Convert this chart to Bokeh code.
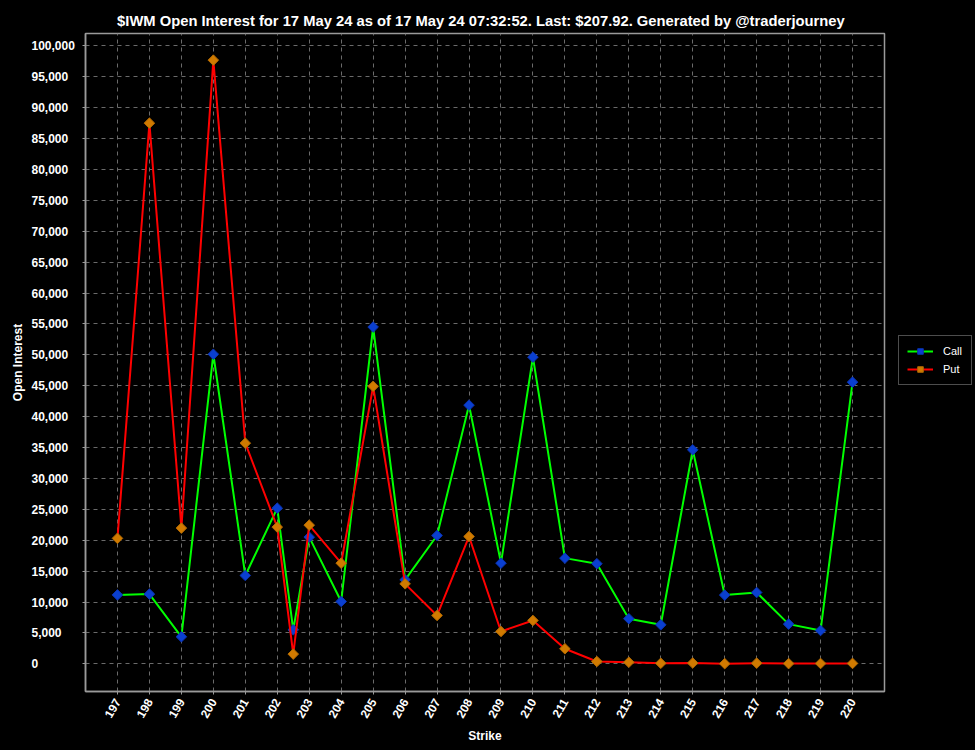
import numpy as np
from bokeh.plotting import figure
from bokeh.layouts import row
from bokeh.models import (FixedTicker, Legend, LegendItem, Range1d,
                          CustomJSTickFormatter)
from bokeh.core.properties import value
from bokeh.embed import file_html
from bokeh.resources import INLINE

title_text = "$IWM Open Interest for 17 May 24 as of 17 May 24 07:32:52.  Last: $207.92.  Generated by @traderjourney"

strikes = [197, 198, 199, 200, 201, 202, 202.5, 203, 204, 205, 206, 207, 208,
           209, 210, 211, 212, 213, 214, 215, 216, 217, 218, 219, 220]
call_oi = [11150, 11280, 4370, 50100, 14290, 25190, 5500, 20500, 10080, 54500,
           13590, 20760, 41860, 16290, 49630, 17100, 16200, 7300, 6310, 34630,
           11120, 11540, 6420, 5390, 45580]
put_oi = [20300, 87500, 21960, 97700, 35710, 22120, 1570, 22440, 16290, 44900,
          12940, 7820, 20600, 5230, 7010, 2430, 370, 250, 80, 120,
          20, 100, 30, 50, 60]

x_ticks = list(range(197, 221))
y_ticks = list(range(0, 100001, 5000))
y_tick_labels = [f"{v:,}" for v in y_ticks]

FONT = "Liberation Sans"
GRAY = "#9a9a9a"
BLACK_BG = {"background-color": "black"}

y_range = Range1d(-4485, 102010)

# ---------- left strip: left-aligned y tick labels + axis title ----------
lab = figure(width=80, height=750, x_range=Range1d(0, 80), y_range=y_range,
             output_backend="svg", toolbar_location=None,
             x_axis_location=None, y_axis_location=None,
             background_fill_color="black", border_fill_color="black",
             min_border_left=0, min_border_right=0, min_border_top=33,
             min_border_bottom=59, styles=BLACK_BG)
lab.outline_line_color = "black"
lab.outline_line_width = 4
lab.grid.visible = False
lab.text(x=[31] * len(y_ticks), y=y_ticks, text=y_tick_labels,
         text_align="left", text_baseline="middle", text_color="white",
         text_font=value(FONT), text_font_size="12px", text_font_style="bold")
lab.text(x=[17], y=[(y_range.start + y_range.end) / 2], text=["Open Interest"],
         angle=np.pi / 2, text_align="center", text_baseline="middle",
         text_color="white", text_font=value(FONT), text_font_size="12px",
         text_font_style="bold")

# ---------- main chart ----------
p = figure(frame_width=799, frame_height=658,
           x_range=Range1d(196, 221), y_range=y_range,
           output_backend="svg", toolbar_location=None,
           background_fill_color="black", border_fill_color="black",
           min_border_left=5, min_border_right=91, min_border_top=33,
           min_border_bottom=59, styles=BLACK_BG)

p.outline_line_color = GRAY
p.outline_line_width = 1.5

p.title.text = title_text
p.title.text_color = "white"
p.title.text_font = FONT
p.title.text_font_size = "14.75px"
p.title.text_font_style = "bold"
p.title.align = "center"

for g in (p.xgrid, p.ygrid):
    g.grid_line_color = "#6a6a6a"
    g.grid_line_dash = "4 4"
    g.grid_line_width = 1

p.xaxis.ticker = FixedTicker(ticks=x_ticks)
p.xaxis.major_label_orientation = np.pi / 3
p.xaxis.major_label_text_color = "white"
p.xaxis.major_label_text_font = FONT
p.xaxis.major_label_text_font_size = "12px"
p.xaxis.major_label_text_font_style = "bold"
p.xaxis.axis_label = "Strike"
p.xaxis.axis_label_text_color = "white"
p.xaxis.axis_label_text_font = FONT
p.xaxis.axis_label_text_font_size = "12px"
p.xaxis.axis_label_text_font_style = "bold"
p.xaxis.axis_label_standoff = 5

p.yaxis.ticker = FixedTicker(ticks=y_ticks)
p.yaxis.formatter = CustomJSTickFormatter(code="return ''")
p.yaxis.major_label_text_font_size = "0px"
p.yaxis.major_label_standoff = 0

for ax in (p.xaxis, p.yaxis):
    ax.axis_line_color = GRAY
    ax.axis_line_width = 1.5
    ax.major_tick_line_color = GRAY
    ax.major_tick_in = 0
    ax.major_tick_out = 3
    ax.minor_tick_line_color = None

call_line = p.line(strikes, call_oi, line_color="#00ff00", line_width=2)
call_pts = p.scatter(strikes, call_oi, marker="square", angle=np.pi / 4, size=7.5,
                     fill_color="#0a3fd0", line_color="#0a32b0")
put_line = p.line(strikes, put_oi, line_color="#ff0000", line_width=2)
put_pts = p.scatter(strikes, put_oi, marker="square", angle=np.pi / 4, size=7.5,
                    fill_color="#d07a00", line_color="#b06800")

legend = Legend(items=[LegendItem(label="Call", renderers=[call_line, call_pts]),
                       LegendItem(label="Put", renderers=[put_line, put_pts])],
                location=(14, 306), orientation="vertical")
legend.background_fill_color = "black"
legend.background_fill_alpha = 1
legend.border_line_color = GRAY
legend.border_line_width = 1
legend.label_text_color = "white"
legend.label_text_font = FONT
legend.label_text_font_size = "11px"
legend.glyph_width = 26
legend.glyph_height = 14
legend.label_height = 14
legend.label_standoff = 10
legend.spacing = 4
legend.padding = 8
legend.margin = 6
p.add_layout(legend, "right")

layout = row(lab, p, spacing=0, styles=BLACK_BG)
html = file_html(layout, INLINE)
html = html.replace("<body>", '<body style="background:black;margin:0">', 1)
open("out.html", "w").write(html)
